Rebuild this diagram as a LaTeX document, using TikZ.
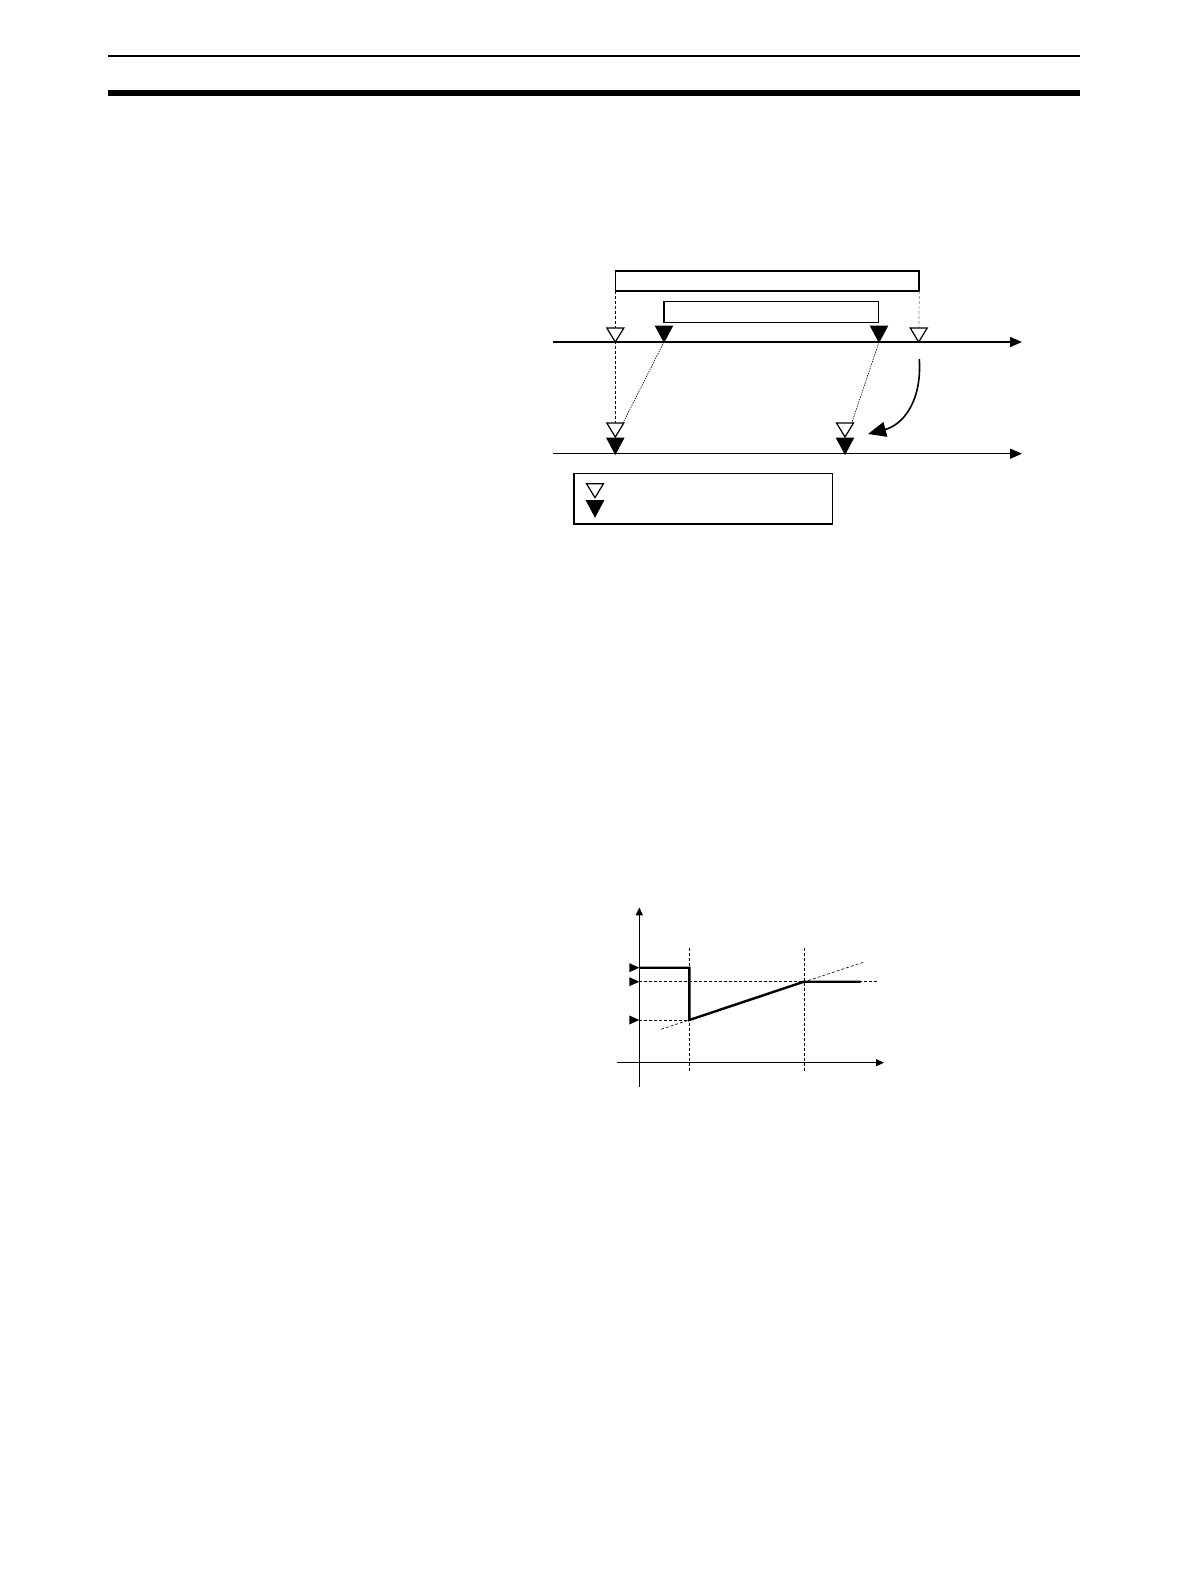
\documentclass[tikz,border=0pt]{standalone}
\usetikzlibrary{arrows.meta}

\tikzset{
	axisline/.style={line width=1.4pt,-{Triangle[length=12pt,width=10pt]}},
	smallaxis/.style={line width=1.3pt,-{Triangle[length=8pt,width=7pt]}},
	guide/.style={line width=0.7pt,dash pattern=on 3pt off 2pt},
	fineguide/.style={line width=0.6pt,dash pattern=on 1.5pt off 1pt},
	barbox/.style={line width=1.1pt},
	curve/.style={line width=1.6pt},
}

% open and filled markers, tip at the given point
\newcommand{\opentri}[1]{\draw[line width=1.2pt,fill=white] (#1) ++(-8.5,-14) -- ++(8.5,14) -- ++(8.5,-14) -- cycle;}
\newcommand{\filltri}[1]{\draw[line width=1pt,fill=black] (#1) ++(-8.5,-16) -- ++(8.5,16) -- ++(8.5,-16) -- cycle;}
\newcommand{\sidetri}[1]{\fill (#1) ++(-10,-4.5) -- ++(10,4.5) -- ++(-10,4.5) -- cycle;}

\begin{document}
\begin{tikzpicture}[x=1pt,y=-1pt]
	\useasboundingbox (0,0) rectangle (1190,1586);

	% header rules
	\draw[line width=1.8pt] (108,55.7) -- (1080,55.7);
	\draw[line width=5.7pt] (108,92.8) -- (1080,92.8);

	% upper timing chart
	\coordinate (outerTL) at (615.3,271);
	\coordinate (outerBR) at (919.3,291);
	\coordinate (outerBL) at (615.3,291);
	\coordinate (innerTL) at (664,301.3);
	\coordinate (innerBR) at (878.7,322.3);

	\coordinate (topA) at (615.3,342);
	\coordinate (topB) at (664,342);
	\coordinate (topC) at (879,342);
	\coordinate (topD) at (918.7,342);

	\coordinate (lowA) at (615.3,437);
	\coordinate (lowAa) at (615.3,454);
	\coordinate (lowB) at (845,437);
	\coordinate (lowBb) at (845,454);

	\draw[barbox] (outerTL) rectangle (outerBR);
	\draw[line width=2pt] (919.3,271) -- (outerBR);
	\draw[line width=1.5pt] (innerTL) rectangle (innerBR);

	\draw[axisline] (553,342) -- (1022,342);
	\draw[axisline] (553,453.7) -- (1022,453.7);

	\draw[guide] (outerBL) -- (lowA);
	\draw[guide,gray] (outerBR) -- (topD);
	\draw[fineguide] (topB) -- (623,423);
	\draw[fineguide] (topC) -- (851.7,423);

	\draw[curve,-{Triangle[length=18pt,width=15pt]}] (919.3,359)
		.. controls (922,403) and (902,425) .. (868,434);

	\opentri{topA}
	\filltri{topB}
	\filltri{topC}
	\opentri{topD}

	\filltri{lowAa}
	\opentri{lowA}
	\filltri{lowBb}
	\opentri{lowB}

	% legend
	\draw[barbox] (574,473.3) rectangle (832.7,524);
	\coordinate (legOpen) at (595,497.7);
	\coordinate (legFill) at (595,516.7);
	\opentri{legOpen}
	\filltri{legFill}

	% lower graph
	\coordinate (origin) at (639.3,1062.7);
	\coordinate (stepA) at (689.3,1020);
	\coordinate (stepB) at (804,981.7);

	\draw[guide] (689.3,948.3) -- (689.3,1072.7);
	\draw[guide] (804,948.3) -- (804,1072.7);
	\draw[guide] (639.3,981.7) -- (876.7,981.7);
	\draw[guide] (639.3,1020) -- (stepA);
	\draw[guide,line width=0.6pt] (661,1029.3) -- (863.3,962.3);

	\draw[smallaxis] (639.3,1086.7) -- (639.3,907.3);
	\draw[smallaxis] (616.7,1062.7) -- (884,1062.7);

	\draw[line width=2.4pt,line join=miter] (639.3,967.7) -- (689.3,967.7) -- (stepA) -- (stepB) -- (860.7,981.7);

	\sidetri{629.3+10,967.7}
	\sidetri{639.3,981.7}
	\sidetri{639.3,1020}
\end{tikzpicture}
\end{document}
